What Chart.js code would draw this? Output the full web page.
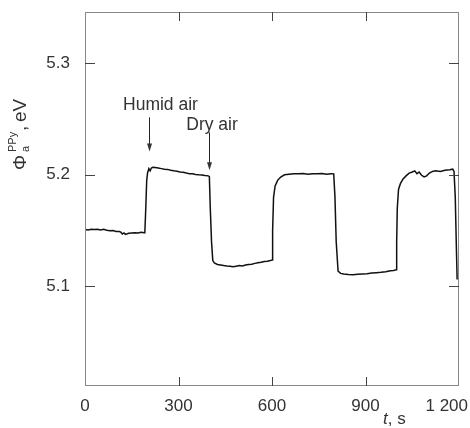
<!DOCTYPE html>
<html>
<head>
<meta charset="utf-8">
<script src="https://cdn.jsdelivr.net/npm/chart.js@4"></script>
<style>
  body { margin:0; background:#fff; }
  #wrap { width:470px; height:428px; }
</style>
</head>
<body>
<div id="wrap"><canvas id="chart" width="470" height="428"></canvas></div>
<script>
// time, s
const timeS = [0,10,20,30,40,50,60,70,80,90,100,110,115,120,125,130,140,150,160,170,180,190,192,
  195,198,201,205,209,213,218,225,235,245,255,265,275,285,295,305,315,325,335,345,355,365,375,385,395,399,
  402,406,410,415,425,435,445,455,465,475,485,495,505,515,525,535,545,555,565,575,585,595,600,
  602,605,610,618,628,640,655,670,685,700,715,730,745,760,775,790,798,
  802,806,812,820,830,845,860,875,890,905,920,935,950,965,980,990,998,
  1000,1002,1006,1012,1020,1030,1040,1050,1058,1065,1072,1080,1088,1096,1105,1115,1125,1140,1155,1170,1180,1184,
  1188,1192,1194];
// work function, eV
const phiEv = [5.151,5.1505,5.151,5.1508,5.1512,5.1505,5.151,5.1502,5.1498,5.15,5.1492,5.149,5.1485,5.1468,5.1478,5.1465,5.1475,5.1478,5.148,5.1478,5.1485,5.148,5.1482,
  5.17,5.195,5.202,5.2055,5.2035,5.206,5.2068,5.2065,5.206,5.2055,5.205,5.2048,5.204,5.2035,5.2032,5.2025,5.2022,5.2015,5.201,5.2008,5.2003,5.2,5.1998,5.1993,5.199,5.1985,
  5.17,5.14,5.123,5.121,5.1195,5.119,5.1185,5.1182,5.118,5.1175,5.118,5.1185,5.1182,5.119,5.1195,5.1198,5.1205,5.121,5.1215,5.1222,5.1225,5.123,5.1235,
  5.15,5.18,5.19,5.195,5.198,5.2,5.2005,5.201,5.2008,5.2012,5.2005,5.201,5.2008,5.2012,5.2005,5.201,5.2008,
  5.18,5.14,5.1135,5.1115,5.111,5.1105,5.1102,5.1108,5.111,5.1112,5.1118,5.1122,5.1125,5.113,5.1138,5.1142,5.1148,
  5.14,5.17,5.187,5.192,5.196,5.199,5.2015,5.2025,5.2035,5.201,5.2025,5.1995,5.198,5.199,5.2015,5.203,5.2035,5.203,5.204,5.2045,5.205,5.203,
  5.18,5.13,5.106];

const xTicks = [0, 300, 600, 900, 1200];
const xTickLabels = ['0', '300', '600', '900', '1 200'];
const yTicks = [5.1, 5.2, 5.3];
const yTickLabels = ['5.1', '5.2', '5.3'];

// annotation arrows: [label, label x (s), label y (eV), arrow x (s), arrow from, arrow to]
const notes = [
  ['Humid air', 122, 5.2585, 205, 5.2515, 5.2209],
  ['Dry air', 325, 5.2405, 399, 5.238, 5.204]
];

const FONT = '"Liberation Sans", Arial, sans-serif';
const TXT = '#333';

const decor = {
  id: 'decor',
  afterDraw(chart){
    const {ctx, chartArea:a, scales:{x, y}} = chart;
    ctx.save();
    // frame
    ctx.strokeStyle = '#888';
    ctx.lineWidth = 1;
    ctx.strokeRect(a.left + 0.5, a.top + 0.5, a.right - a.left - 1, a.bottom - a.top - 1);
    // inward ticks
    ctx.strokeStyle = '#444';
    ctx.beginPath();
    xTicks.slice(1, -1).forEach(v => {
      const px = Math.round(x.getPixelForValue(v)) + 0.5;
      ctx.moveTo(px, a.bottom); ctx.lineTo(px, a.bottom - 9);
      ctx.moveTo(px, a.top); ctx.lineTo(px, a.top + 9);
    });
    yTicks.forEach(v => {
      const py = Math.round(y.getPixelForValue(v)) + 0.5;
      ctx.moveTo(a.left, py); ctx.lineTo(a.left + 10, py);
      ctx.moveTo(a.right, py); ctx.lineTo(a.right - 10, py);
    });
    ctx.stroke();

    // x tick labels (last one sits inside the canvas, ending near the edge)
    ctx.fillStyle = TXT;
    ctx.font = '17px ' + FONT;
    ctx.textBaseline = 'alphabetic';
    xTicks.forEach((v, i) => {
      const last = i === xTicks.length - 1;
      ctx.textAlign = last ? 'right' : 'center';
      ctx.fillText(xTickLabels[i], x.getPixelForValue(v) + (last ? 9 : 0), a.bottom + 25);
    });
    ctx.textAlign = 'left';

    // notes with arrows
    ctx.strokeStyle = '#222';
    ctx.font = '17.5px ' + FONT;
    notes.forEach(([txt, tx, ty, ax, y0, y1]) => {
      ctx.fillText(txt, x.getPixelForValue(tx), y.getPixelForValue(ty));
      const px = Math.round(x.getPixelForValue(ax)) + 0.5;
      const p0 = y.getPixelForValue(y0), p1 = y.getPixelForValue(y1);
      ctx.beginPath(); ctx.moveTo(px, p0); ctx.lineTo(px, p1 - 5); ctx.stroke();
      ctx.beginPath();
      ctx.moveTo(px, p1); ctx.lineTo(px - 2.5, p1 - 8); ctx.lineTo(px + 2.5, p1 - 8);
      ctx.closePath(); ctx.fill();
    });

    // x title: t, s
    ctx.font = 'italic 17px ' + FONT;
    ctx.fillText('t', 383, 424);
    const tw = ctx.measureText('t').width;
    ctx.font = '17px ' + FONT;
    ctx.fillText(', s', 383 + tw, 424);

    // y title: Φ_a^PPy, eV
    ctx.translate(26, 170);
    ctx.rotate(-Math.PI / 2);
    ctx.font = '19px ' + FONT;
    ctx.fillText('Φ', 0, 0);
    ctx.font = '11px ' + FONT;
    ctx.fillText('a', 18, 3);
    ctx.fillText('PPy', 18, -10);
    ctx.font = '19px ' + FONT;
    ctx.fillText(',', 39, 0);
    ctx.fillText('eV', 48, 0);
    ctx.restore();
  }
};

new Chart(document.getElementById('chart'), {
  type: 'line',
  data: {
    datasets: [{
      data: timeS.map((t, i) => ({x: t, y: phiEv[i]})),
      borderColor: '#111',
      borderWidth: 1.5,
      pointRadius: 0,
      tension: 0,
      fill: false
    }]
  },
  options: {
    responsive: false,
    animation: false,
    layout: { padding: { top: 12, right: 11, left: 0, bottom: 0 } },
    plugins: { legend: { display: false }, tooltip: { enabled: false } },
    scales: {
      x: {
        type: 'linear', min: 0, max: 1200,
        grid: { display: false, drawTicks: false },
        border: { display: false },
        afterBuildTicks: s => { s.ticks = xTicks.map(v => ({value: v})); },
        afterFit: s => { s.height = 42; s.paddingLeft = 0; s.paddingRight = 0; },
        ticks: { display: false }
      },
      y: {
        type: 'linear', min: 5.0105, max: 5.346,
        grid: { display: false, drawTicks: false },
        border: { display: false },
        afterBuildTicks: s => { s.ticks = yTicks.map(v => ({value: v})); },
        afterFit: s => { s.width = 85; s.paddingTop = 0; s.paddingBottom = 0; },
        ticks: {
          padding: 15,
          color: TXT,
          font: { family: FONT, size: 17 },
          callback: v => yTickLabels[yTicks.findIndex(t => Math.abs(t - v) < 1e-9)]
        }
      }
    }
  },
  plugins: [decor]
});
</script>
</body>
</html>
